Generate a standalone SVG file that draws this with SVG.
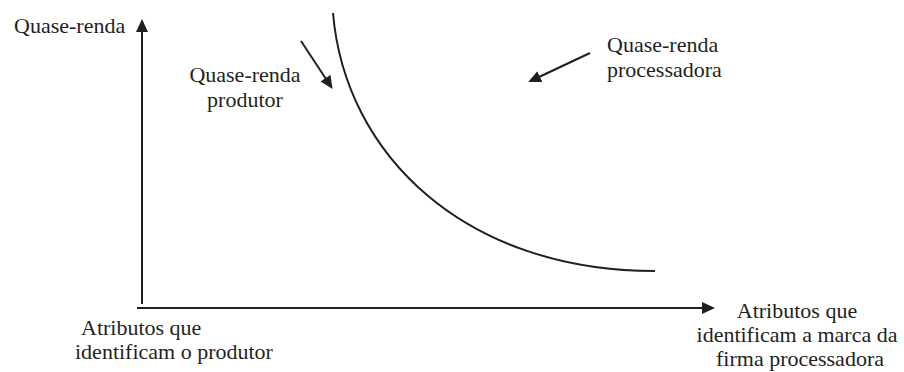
<svg xmlns="http://www.w3.org/2000/svg" width="904" height="372" viewBox="0 0 904 372">
<style>
text{font-family:"Liberation Serif","Times New Roman",serif;font-size:22px;fill:#231f20}
.ln{stroke:#231f20;stroke-width:2;fill:none}
</style>
<defs>
<marker id="ah" viewBox="0 0 13 12" refX="1" refY="6" markerWidth="13" markerHeight="12" markerUnits="userSpaceOnUse" orient="auto">
<path d="M0,0 L13,6 L0,12 z" fill="#231f20"/>
</marker>
</defs>
<rect width="904" height="372" fill="#fff"/>
<g id="connectors">
<line class="ln" x1="142" y1="304" x2="142" y2="31" marker-end="url(#ah)"/>
<line class="ln" x1="137" y1="308" x2="703" y2="308" marker-end="url(#ah)"/>
<path id="curve" class="ln" d="M333,13 C345,155 465,271 655,271"/>
<line class="ln" x1="301" y1="41" x2="326" y2="79" marker-end="url(#ah)"/>
<line class="ln" x1="590" y1="53" x2="539" y2="77" marker-end="url(#ah)"/>
</g>
<g id="label-y">
<text x="14" y="33">Quase-renda</text>
</g>
<g id="label-produtor">
<text x="245" y="82" text-anchor="middle">Quase-renda</text>
<text x="245" y="107" text-anchor="middle">produtor</text>
</g>
<g id="label-processadora">
<text x="607" y="52">Quase-renda</text>
<text x="607" y="77">processadora</text>
</g>
<g id="label-x-left">
<text x="81" y="335">Atributos que</text>
<text x="75" y="359">identificam o produtor</text>
</g>
<g id="label-x-right">
<text x="797" y="318" text-anchor="middle">Atributos que</text>
<text x="797" y="342" text-anchor="middle">identificam a marca da</text>
<text x="800" y="366" text-anchor="middle">firma processadora</text>
</g>
</svg>
